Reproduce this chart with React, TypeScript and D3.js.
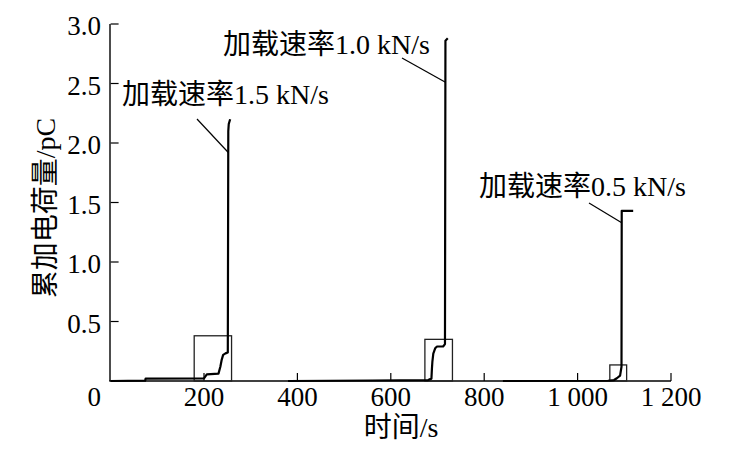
import React from "react";
import * as d3 from "d3";

// Cumulative charge (pC) versus time (s) for three loading rates
const series15: [number, number][] = [
  [0, 0], [74, 0.003], [75, 0.02], [200, 0.022], [206, 0.055], [231, 0.062],
  [235, 0.12], [238, 0.18], [241, 0.22], [246, 0.232], [251, 0.24],
  [252, 2.1], [253, 2.16], [256, 2.2],
];
const series10: [number, number][] = [
  [380, 0], [560, 0.004], [680, 0.008], [687, 0.02], [688, 0.1], [689, 0.16],
  [691, 0.23], [695, 0.275], [699, 0.29], [712, 0.29], [716, 0.31],
  [717, 2.86], [722, 2.88],
];
const series05: [number, number][] = [
  [840, 0], [1065, 0.002], [1078, 0.008], [1084, 0.023], [1091, 0.045],
  [1094, 0.12], [1094.5, 1.43], [1119, 1.43],
];

// Zoom boxes around the onset of each charge burst: [t0, t1, qMax]
const boxes: [number, number, number][] = [
  [179, 259, 0.38],
  [673, 732, 0.35],
  [1069, 1105, 0.135],
];

const rateLabels = ["加载速率1.5 kN/s", "加载速率1.0 kN/s", "加载速率0.5 kN/s"];
// leader line targets on each curve: [t, q]
const leaderTargets: [number, number][] = [
  [252, 1.92],
  [717, 2.51],
  [1094.5, 1.33],
];

const xTicks = [200, 400, 600, 800, 1000, 1200];
const xTickLabels = ["200", "400", "600", "800", "1 000", "1 200"];
const yTicks = [0.5, 1.0, 1.5, 2.0, 2.5, 3.0];
const yTickLabels = ["0.5", "1.0", "1.5", "2.0", "2.5", "3.0"];

const W = 733;
const H = 458;
const x = d3.scaleLinear().domain([0, 1200]).range([110.6, 671]);
const y = d3.scaleLinear().domain([0, 3]).range([381, 24]);

// label placement: [textX, baselineY, leaderStartX, leaderStartY]
const labelLayout: [number, number, number, number][] = [
  [122, 104, 197, 119],
  [223, 54, 402, 58],
  [479, 196, 589, 203],
];

const serif = "'Liberation Serif', 'Times New Roman', 'Noto Sans CJK SC', serif";

export default function App() {
  const line = d3
    .line<[number, number]>()
    .x((d) => x(d[0]))
    .y((d) => y(d[1]));
  const allSeries = [series15, series10, series05];

  return (
    <svg
      width={W}
      height={H}
      viewBox={`0 0 ${W} ${H}`}
      style={{ position: "absolute", left: 0, top: 0, background: "#fff" }}
      fontFamily={serif}
    >
      {/* axes */}
      <line x1={x(0) - 0.6} x2={x(0) - 0.6} y1={y(3)} y2={y(0)} stroke="#000" strokeWidth={1.4} />
      <line x1={x(0) - 1.3} x2={x(1200)} y1={y(0)} y2={y(0)} stroke="#000" strokeWidth={1.4} />
      {yTicks.map((t, i) => (
        <g key={"y" + i}>
          <line x1={x(0)} x2={x(0) + 8} y1={y(t)} y2={y(t)} stroke="#000" strokeWidth={1.2} />
          <text x={101} y={y(t) + 11} textAnchor="end" fontSize={27}>
            {yTickLabels[i]}
          </text>
        </g>
      ))}
      {xTicks.map((t, i) => (
        <g key={"x" + i}>
          <line x1={x(t)} x2={x(t)} y1={y(0)} y2={y(0) - 8} stroke="#000" strokeWidth={1.2} />
          <text x={x(t)} y={406} textAnchor="middle" fontSize={27}>
            {xTickLabels[i]}
          </text>
        </g>
      ))}
      <text x={101} y={406} textAnchor="end" fontSize={27}>
        0
      </text>
      <text x={401} y={437} textAnchor="middle" fontSize={28}>
        时间/s
      </text>
      <text
        transform={`translate(55,${208}) rotate(-90)`}
        textAnchor="middle"
        fontSize={28}
      >
        累加电荷量/pC
      </text>

      {/* zoom boxes */}
      {boxes.map((b, i) => (
        <rect
          key={"b" + i}
          x={x(b[0])}
          y={y(b[2])}
          width={x(b[1]) - x(b[0])}
          height={y(0) - y(b[2])}
          fill="none"
          stroke="#222"
          strokeWidth={1.3}
        />
      ))}

      {/* charge curves */}
      {allSeries.map((s, i) => (
        <path key={"s" + i} d={line(s) || ""} fill="none" stroke="#000" strokeWidth={2.2} strokeLinejoin="round" />
      ))}

      {/* rate annotations */}
      {rateLabels.map((txt, i) => {
        const [tx, ty, lx, ly] = labelLayout[i];
        const [lt, lq] = leaderTargets[i];
        return (
          <g key={"l" + i}>
            <line x1={lx} y1={ly} x2={x(lt)} y2={y(lq)} stroke="#000" strokeWidth={1.2} />
            <text x={tx} y={ty} fontSize={28}>
              {txt}
            </text>
          </g>
        );
      })}
    </svg>
  );
}
